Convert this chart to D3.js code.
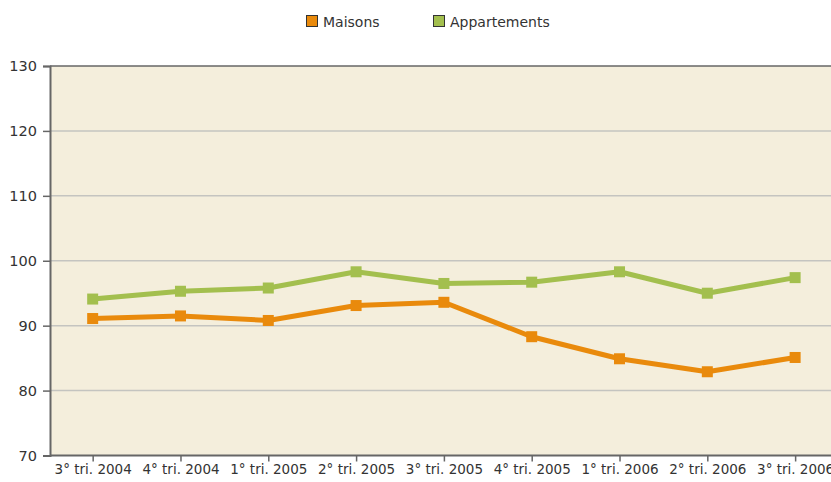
<!DOCTYPE html>
<html>
<head>
<meta charset="utf-8">
<script src="https://cdn.jsdelivr.net/npm/d3@7"></script>
<style>
  body { margin: 0; background: #fff; }
  text { font-family: "DejaVu Sans", Verdana, sans-serif; fill: #333; }
</style>
</head>
<body>
<svg id="chart" width="831" height="482"></svg>
<script>
// quarters on the x axis
var quarters = ["3° tri. 2004", "4° tri. 2004", "1° tri. 2005", "2° tri. 2005", "3° tri. 2005",
                "4° tri. 2005", "1° tri. 2006", "2° tri. 2006", "3° tri. 2006"];
var maisons = [91.1, 91.5, 90.8, 93.1, 93.6, 88.3, 84.9, 82.9, 85.1];
var appartements = [94.1, 95.3, 95.8, 98.3, 96.5, 96.7, 98.3, 95.0, 97.4];
var yTicks = [70, 80, 90, 100, 110, 120, 130];

var series = [
  {name: "Maisons", values: maisons, color: "#e98a0c"},
  {name: "Appartements", values: appartements, color: "#a3bf4e"}
];

var svg = d3.select("#chart"),
  margin = {top: 66, left: 50},
  plotW = 787.8,
  plotH = 389.5;

var g = svg.append("g").attr("transform", "translate(" + margin.left + "," + margin.top + ")");

var x = d3.scalePoint()
  .domain(quarters)
  .range([0, plotW])
  .padding(0.486);

var y = d3.scaleLinear()
  .domain([70, 130])
  .range([plotH, 0]);

// background
g.append("rect")
  .attr("width", plotW + 20)
  .attr("height", plotH)
  .attr("fill", "#f4eedc");

// grid lines
g.selectAll(".grid")
  .data(yTicks.slice(1, -1))
  .enter().append("line")
  .attr("x1", 0).attr("x2", plotW + 20)
  .attr("y1", function(d) { return y(d); })
  .attr("y2", function(d) { return y(d); })
  .attr("stroke", "#c4c4c0")
  .attr("stroke-width", 1.5);

// top border
g.append("line")
  .attr("x1", 0).attr("x2", plotW + 20)
  .attr("y1", 0).attr("y2", 0)
  .attr("stroke", "#666").attr("stroke-width", 1.5);

// y axis
var yAxis = g.append("g")
  .call(d3.axisLeft(y).tickValues(yTicks).tickSize(7).tickPadding(6));
yAxis.select(".domain").attr("stroke", "#666").attr("stroke-width", 2);
yAxis.selectAll(".tick line").attr("stroke", "#666").attr("stroke-width", 1.5);
yAxis.selectAll("text").style("font-size", "14.5px").attr("fill", "#333");

// x axis
var xAxis = g.append("g")
  .attr("transform", "translate(0," + plotH + ")")
  .call(d3.axisBottom(x).tickSize(6).tickSizeOuter(0).tickPadding(3));
xAxis.select(".domain").attr("stroke", "#666").attr("stroke-width", 2)
  .attr("d", "M0,0H" + (plotW + 20));
xAxis.selectAll(".tick line").attr("stroke", "#666").attr("stroke-width", 1.5);
xAxis.selectAll("text").style("font-size", "13.5px").attr("fill", "#333");

var line = d3.line()
  .x(function(d, i) { return x(quarters[i]); })
  .y(function(d) { return y(d); });

series.forEach(function(s) {
  g.append("path")
    .datum(s.values)
    .attr("fill", "none")
    .attr("stroke", s.color)
    .attr("stroke-width", 5)
    .attr("stroke-linejoin", "round")
    .attr("d", line);

  g.selectAll(null)
    .data(s.values)
    .enter().append("rect")
    .attr("x", function(d, i) { return x(quarters[i]) - 5.5; })
    .attr("y", function(d) { return y(d) - 5.5; })
    .attr("width", 11)
    .attr("height", 11)
    .attr("fill", s.color);
});

// legend
var legend = svg.append("g").attr("transform", "translate(306,15)");
var legendX = [0, 127];
series.forEach(function(s, i) {
  var item = legend.append("g").attr("transform", "translate(" + legendX[i] + ",0)");
  item.append("rect")
    .attr("x", 0.5).attr("y", 0.5)
    .attr("width", 11).attr("height", 11)
    .attr("fill", s.color)
    .attr("stroke", "#333");
  item.append("text")
    .attr("x", 17).attr("y", 11.5)
    .style("font-size", "14px")
    .text(s.name);
});
</script>
</body>
</html>
